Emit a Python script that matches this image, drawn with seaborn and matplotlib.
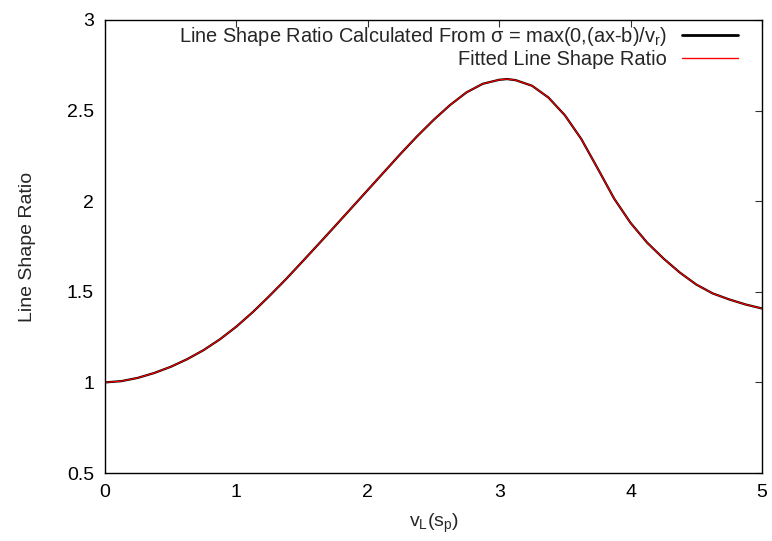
import matplotlib
matplotlib.use("Agg")
import matplotlib.pyplot as plt
import seaborn as sns
import pandas as pd

# Data
v_L = [0.0, 0.125, 0.25, 0.375, 0.5, 0.625, 0.75, 0.875, 1.0, 1.125, 1.25,
       1.375, 1.5, 1.625, 1.75, 1.875, 2.0, 2.125, 2.25, 2.375, 2.5, 2.625,
       2.75, 2.875, 3.0, 3.06, 3.125, 3.25, 3.375, 3.5, 3.625, 3.75, 3.875,
       4.0, 4.125, 4.25, 4.375, 4.5, 4.625, 4.75, 4.875, 5.0]
ratio_calc = [1.000, 1.007, 1.025, 1.052, 1.086, 1.128, 1.178, 1.238, 1.308,
              1.388, 1.476, 1.568, 1.665, 1.763, 1.862, 1.962, 2.062, 2.162,
              2.262, 2.358, 2.448, 2.530, 2.600, 2.648, 2.670, 2.674, 2.668,
              2.637, 2.572, 2.474, 2.343, 2.180, 2.014, 1.880, 1.772, 1.684,
              1.606, 1.540, 1.491, 1.458, 1.430, 1.408]
ratio_fit = [1.000, 1.007, 1.025, 1.052, 1.086, 1.128, 1.178, 1.238, 1.308,
             1.388, 1.476, 1.568, 1.665, 1.763, 1.862, 1.962, 2.062, 2.162,
             2.262, 2.358, 2.448, 2.530, 2.600, 2.648, 2.670, 2.674, 2.668,
             2.637, 2.572, 2.474, 2.343, 2.180, 2.014, 1.880, 1.772, 1.684,
             1.606, 1.540, 1.491, 1.458, 1.430, 1.408]

label_calc = "Line Shape Ratio Calculated From \u03c3 = max(0,(ax-b)/v$_{\\mathrm{r}}$)"
label_fit = "Fitted Line Shape Ratio"
x_ticks = [0, 1, 2, 3, 4, 5]
y_ticks = [0.5, 1, 1.5, 2, 2.5, 3]
y_tick_labels = ["0.5", "1", "1.5", "2", "2.5", "3"]

df_calc = pd.DataFrame({"x": v_L, "y": ratio_calc})
df_fit = pd.DataFrame({"x": v_L, "y": ratio_fit})

sns.set_style("white")
plt.rcParams["font.family"] = ["Liberation Sans", "DejaVu Sans"]
plt.rcParams["mathtext.fontset"] = "custom"
plt.rcParams["mathtext.rm"] = "Liberation Sans"
plt.rcParams["mathtext.it"] = "Liberation Sans:italic"
plt.rcParams["mathtext.bf"] = "Liberation Sans:bold"

fig = plt.figure(figsize=(7.72, 5.41), dpi=100)
ax = fig.add_axes([105 / 772, 1 - 473 / 541, (762 - 105) / 772, (473 - 20) / 541])

sns.lineplot(data=df_calc, x="x", y="y", ax=ax, color="black", linewidth=1.6,
             label=label_calc)
sns.lineplot(data=df_fit, x="x", y="y", ax=ax, color="#ff0000", linewidth=0.8,
             label=label_fit)

ax.set_xlim(0, 5)
ax.set_ylim(0.5, 3)
ax.set_xticks(x_ticks)
ax.set_xticklabels([str(t) for t in x_ticks])
ax.set_yticks(y_ticks)
ax.set_yticklabels(y_tick_labels)

fs = 14
ax.tick_params(direction="in", length=5, width=0.8, color="#333333",
               top=True, right=True, labelsize=fs, pad=8, labelcolor="black")
for sp in ax.spines.values():
    sp.set_visible(True)
    sp.set_color("black")
    sp.set_linewidth(1.0)

ax.set_xlabel("v$_{\\mathrm{L}}$(s$_{\\mathrm{p}}$)", fontsize=fs, labelpad=8)
ax.set_ylabel("Line Shape Ratio", fontsize=fs, labelpad=22)

leg = ax.legend(loc="upper right", bbox_to_anchor=(0.9635, 0.99),
                frameon=False, markerfirst=False,
                fontsize=14.4, handlelength=2.8, handletextpad=0.75,
                labelspacing=0.1, borderaxespad=0.0, borderpad=0.0)
leg.get_lines()[0].set_linewidth(2.0)
leg.get_lines()[1].set_linewidth(1.0)

fig.savefig("out.png", dpi=100)
